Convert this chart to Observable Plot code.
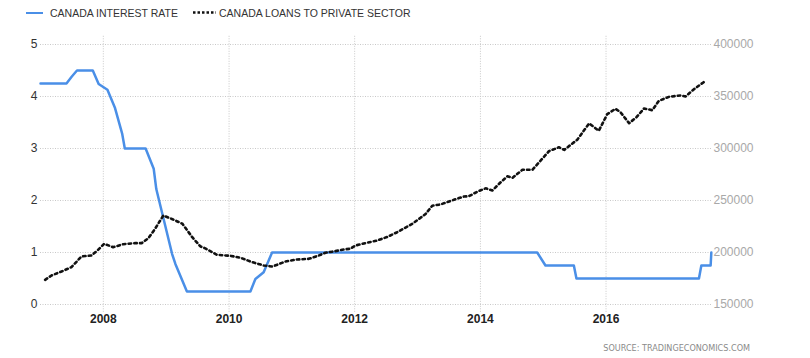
<!DOCTYPE html>
<html><head><meta charset="utf-8">
<script src="https://cdn.jsdelivr.net/npm/d3@7"></script>
<script src="https://cdn.jsdelivr.net/npm/@observablehq/plot@0.6"></script>
<style>
html,body{margin:0;padding:0;background:#fff;}
body{width:810px;height:358px;overflow:hidden;position:relative;font-family:"Liberation Sans",Arial,sans-serif;}
#legend{position:relative;height:26px;font-size:10.5px;color:#333;}
#legend .sw{position:absolute;top:12px;height:0;}
#legend .dots{position:absolute;left:193px;top:10px;}
#legend .lbl{position:absolute;top:6px;line-height:14px;white-space:nowrap;}
#chart{position:absolute;left:0;top:26px;}
#source{position:absolute;right:60px;top:343px;font-size:9px;color:#8a8a8a;font-family:"Liberation Sans Narrow","DejaVu Sans Condensed","Roboto Condensed","Liberation Sans",sans-serif;white-space:nowrap;}
</style></head><body>
<div id="legend">
  <div class="sw" style="left:26px;width:17px;border-top:2.5px solid #4a8fe7;"></div>
  <div class="lbl" style="left:50px;">CANADA INTEREST RATE</div>
  <svg class="dots" width="23" height="5"><line x1="0" y1="2.5" x2="23" y2="2.5" stroke="#111" stroke-width="2.5" stroke-dasharray="2.5,2"/></svg>
  <div class="lbl" style="left:219px;">CANADA LOANS TO PRIVATE SECTOR</div>
</div>
<div id="chart"></div>
<div id="source">SOURCE: TRADINGECONOMICS.COM</div>
<script>
// Canada interest rate (%)
const rateDates = ["2007-01-01","2007-06-01","2007-07-01","2007-08-01","2007-11-01","2007-12-05","2008-01-25","2008-03-08","2008-04-20","2008-05-05","2008-09-03","2008-10-20","2008-11-04","2009-02-04","2009-02-23","2009-05-01","2010-05-05","2010-06-03","2010-07-21","2010-09-08","2014-11-27","2015-01-14","2015-06-28","2015-07-13","2017-06-24","2017-07-08","2017-08-31","2017-09-04"];
const rateValues = [4.25,4.25,4.38,4.5,4.5,4.24,4.13,3.79,3.28,3.0,3.0,2.61,2.22,0.97,0.78,0.25,0.25,0.49,0.62,1.0,1.0,0.75,0.75,0.5,0.5,0.75,0.75,1.0];

// Canada loans to private sector
const loanDates = ["2007-01-28","2007-03-06","2007-05-03","2007-06-30","2007-08-27","2007-10-24","2007-11-28","2008-01-06","2008-02-27","2008-04-26","2008-07-03","2008-08-11","2008-09-19","2008-10-28","2008-12-15","2009-02-06","2009-04-05","2009-06-01","2009-07-19","2009-08-16","2009-10-23","2010-01-09","2010-03-08","2010-05-15","2010-07-22","2010-09-10","2010-11-24","2011-02-01","2011-04-09","2011-06-05","2011-07-15","2011-09-01","2011-10-29","2011-12-07","2012-01-05","2012-03-03","2012-05-10","2012-07-09","2012-09-04","2012-10-23","2012-12-01","2013-01-18","2013-02-16","2013-03-27","2013-05-14","2013-07-31","2013-09-27","2013-10-26","2013-12-14","2014-01-31","2014-03-11","2014-04-29","2014-06-07","2014-07-06","2014-09-02","2014-10-30","2014-12-26","2015-02-03","2015-04-02","2015-05-03","2015-07-18","2015-09-25","2015-11-20","2016-01-08","2016-02-25","2016-03-25","2016-05-14","2016-06-26","2016-08-09","2016-09-26","2016-11-03","2017-01-01","2017-03-09","2017-04-07","2017-05-26","2017-07-27"];
const loanValues = [173700,177900,181700,185900,196200,197100,201900,208400,205100,208000,209000,209000,213700,222800,235600,232000,227600,214700,205800,204000,197800,196800,195000,190700,187500,186500,191300,193300,193900,197000,199800,201000,202900,203600,206700,209000,211500,215000,219500,224000,227600,233400,237000,245000,246200,250700,253800,254100,258500,261700,259600,267600,273300,271800,279500,279500,290100,297400,301200,298700,308500,324200,317000,333000,338200,334900,324300,330100,338500,336800,345800,349700,351000,350000,357000,364400];

// Axes
const rateTicks = [0,1,2,3,4,5];
const loanTicks = [150000,200000,250000,300000,350000,400000];
const yearTicks = ["2008-01-01","2010-01-01","2012-01-01","2014-01-01","2016-01-01"];
const xDomain = ["2007-01-01","2017-09-05"];

const rates = rateDates.map((d,i)=>({date:new Date(d), value:rateValues[i]}));
const loanBase = loanTicks[0], loanStep = loanTicks[1]-loanTicks[0];
const loans = loanDates.map((d,i)=>({date:new Date(d), value:loanValues[i]}));
const toRateScale = v => (v - loanBase) / loanStep;

const grid = "#c8c8c8";
const chart = Plot.plot({
  width: 810,
  height: 310,
  marginTop: 18,
  marginBottom: 32,
  marginLeft: 40,
  marginRight: 99,
  style: {fontFamily: '"Liberation Sans", Arial, sans-serif', fontSize: "12px", background: "#fff", overflow: "visible"},
  x: {type: "utc", domain: xDomain.map(d=>new Date(d))},
  y: {domain: [0,5]},
  marks: [
    Plot.gridY(rateTicks, {stroke: grid, strokeOpacity: 1, strokeDasharray: "1,1.5"}),
    Plot.ruleX(yearTicks.map(d=>new Date(d)), {y1: -0.15, y2: 5.17, stroke: grid, strokeOpacity: 1, strokeDasharray: "1,1.5"}),
    Plot.axisY(rateTicks, {anchor: "left", tickSize: 0, tickPadding: 3, fill: "#333", fontSize: 12, label: null, tickFormat: d => String(d)}),
    Plot.axisY(rateTicks, {anchor: "right", tickSize: 0, tickPadding: 2, fill: "#a8a8a8", fontSize: 12, label: null, tickFormat: d => String(loanTicks[rateTicks.indexOf(d)])}),
    Plot.axisX(yearTicks.map(d=>new Date(d)), {tickSize: 0, tickPadding: 10, fill: "#222", fontSize: 12, fontWeight: "bold", label: null, tickFormat: d3.utcFormat("%Y")}),
    Plot.line(rates, {x: "date", y: "value", stroke: "#4a8fe7", strokeWidth: 2.5}),
    Plot.line(loans, {x: "date", y: d => toRateScale(d.value), stroke: "#111", strokeWidth: 2.6, strokeDasharray: "2.5,3.2"})
  ]
});
document.getElementById("chart").appendChild(chart);
</script>
</body></html>
